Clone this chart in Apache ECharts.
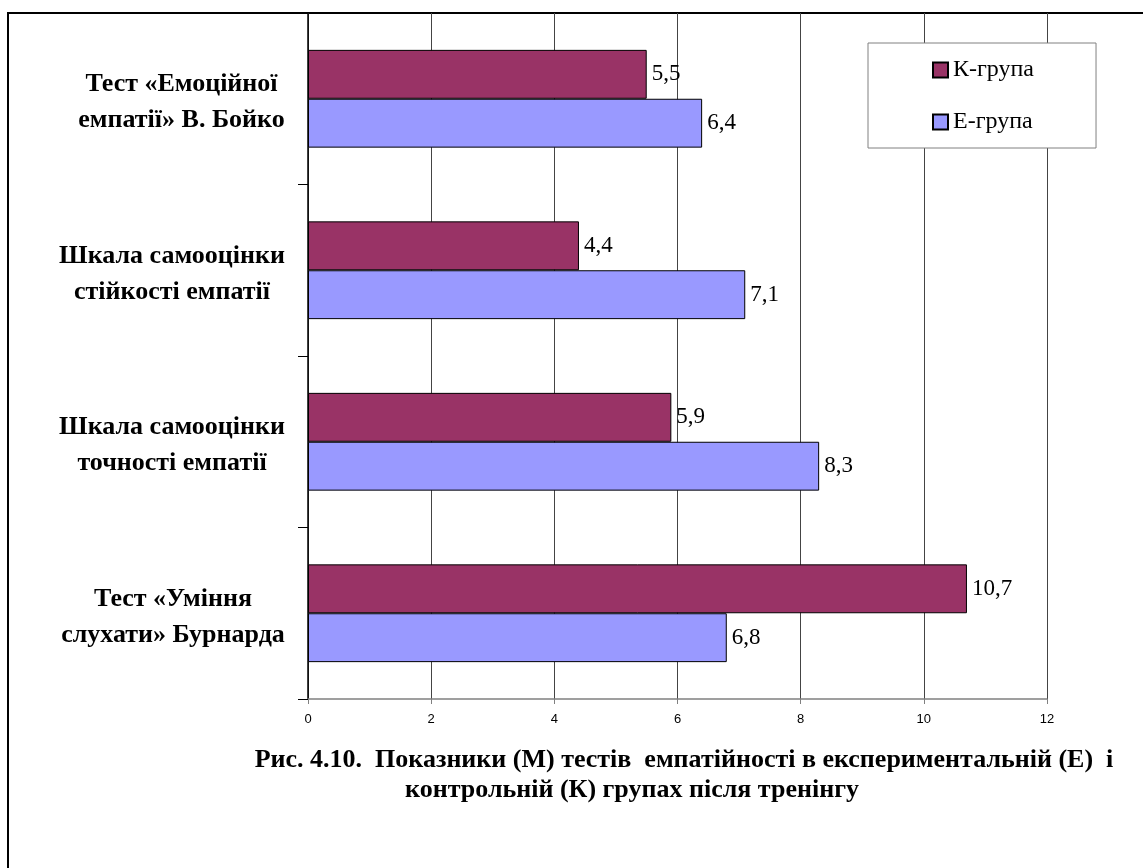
<!DOCTYPE html>
<html>
<head>
<meta charset="utf-8">
<script src="https://cdn.jsdelivr.net/npm/echarts@6/dist/echarts.min.js"></script>
<style>
  html, body { margin: 0; padding: 0; background: #fff; }
  #chart { width: 1143px; height: 868px; }
</style>
</head>
<body>
<div id="chart"></div>
<script>
// Test names (one row per test), top to bottom
const categories = [
  'Тест «Емоційної\nемпатії» В. Бойко',
  'Шкала самооцінки\nстійкості емпатії',
  'Шкала самооцінки\nточності емпатії',
  'Тест «Уміння\nслухати» Бурнарда'
];
// Mean scores (M) per group
const seriesNames = ['К-група', 'Е-група'];
const kGroup = [5.5, 4.4, 5.9, 10.7];
const eGroup = [6.4, 7.1, 8.3, 6.8];
// Value axis range
const axisMin = 0;
const axisMax = 12;
const axisStep = 2;
// Figure caption lines
const captionLines = [
  'Рис. 4.10.  Показники (М) тестів  емпатійності в експериментальній (Е)  і',
  'контрольній (К) групах після тренінгу'
];

const serif = '"Liberation Serif", "Times New Roman", serif';
const comma = v => String(v).replace('.', ',');
const catFont = 'bold 26px ' + serif;

// Category labels: the block sits right next to the axis, each line centred inside it.
const measureCtx = document.createElement('canvas').getContext('2d');
measureCtx.font = catFont;
const catRich = {};
categories.forEach((c, i) => {
  const w = Math.max(...c.split('\n').map(s => measureCtx.measureText(s).width));
  catRich['c' + i] = {
    width: Math.ceil(w),
    align: 'center',
    fontFamily: serif,
    fontWeight: 'bold',
    fontSize: 26,
    lineHeight: 36,
    color: '#000'
  };
});

const chart = echarts.init(document.getElementById('chart'), null, { renderer: 'canvas' });

const barLabel = {
  show: true,
  position: 'right',
  distance: 5,
  color: '#000',
  fontFamily: serif,
  fontSize: 23,
  formatter: p => comma(p.value)
};

chart.setOption({
  animation: false,
  backgroundColor: '#fff',
  grid: { left: 308, right: 96, top: 13, bottom: 169, containLabel: false },
  legend: {
    data: seriesNames,
    orient: 'vertical',
    left: 868,
    top: 43,
    padding: [15, 62, 14, 64],
    itemGap: 28,
    itemWidth: 15,
    itemHeight: 15,
    icon: 'rect',
    backgroundColor: '#fff',
    borderColor: '#808080',
    borderWidth: 1,
    borderRadius: 0,
    textStyle: { fontFamily: serif, fontSize: 24, color: '#000', lineHeight: 24 }
  },
  xAxis: {
    type: 'value',
    min: axisMin,
    max: axisMax,
    interval: axisStep,
    axisLine: { show: true, lineStyle: { color: '#808080', width: 1.5 } },
    axisTick: { show: true, length: 5, lineStyle: { color: '#808080' } },
    axisLabel: {
      color: '#000',
      fontFamily: '"Liberation Sans", Arial, sans-serif',
      fontSize: 13,
      margin: 14,
      formatter: v => comma(v)
    },
    splitLine: { show: true, lineStyle: { color: '#444', width: 1 } }
  },
  yAxis: {
    type: 'category',
    data: categories,
    inverse: true,
    axisLine: { show: true, lineStyle: { color: '#000', width: 1.5 } },
    axisTick: { show: true, length: 10, lineStyle: { color: '#000' } },
    axisLabel: {
      color: '#000',
      fontFamily: serif,
      fontWeight: 'bold',
      fontSize: 26,
      lineHeight: 36,
      align: 'right',
      margin: 23,
      padding: [8, 0, 0, 0],
      formatter: (value, index) =>
        value.split('\n').map(s => '{c' + index + '|' + s + '}').join('\n'),
      rich: catRich
    },
    splitLine: { show: false }
  },
  series: [
    {
      name: seriesNames[0],
      type: 'bar',
      data: kGroup,
      barGap: '0%',
      barCategoryGap: '43%',
      itemStyle: { color: '#993366', borderColor: '#000', borderWidth: 1 },
      label: barLabel
    },
    {
      name: seriesNames[1],
      type: 'bar',
      data: eGroup,
      barGap: '0%',
      barCategoryGap: '43%',
      itemStyle: { color: '#9999FF', borderColor: '#000', borderWidth: 1 },
      label: barLabel
    }
  ],
  graphic: [
    {
      type: 'rect',
      z: -10,
      silent: true,
      shape: { x: 8, y: 13, width: 1200, height: 900 },
      style: { fill: 'none', stroke: '#000', lineWidth: 2 }
    },
    {
      type: 'text',
      x: 684,
      y: 760,
      style: {
        text: captionLines[0],
        fill: '#000',
        font: 'bold 26px ' + serif,
        textAlign: 'center',
        textVerticalAlign: 'middle'
      }
    },
    {
      type: 'text',
      x: 632,
      y: 790,
      style: {
        text: captionLines[1],
        fill: '#000',
        font: 'bold 26px ' + serif,
        textAlign: 'center',
        textVerticalAlign: 'middle'
      }
    }
  ]
});
</script>
</body>
</html>
